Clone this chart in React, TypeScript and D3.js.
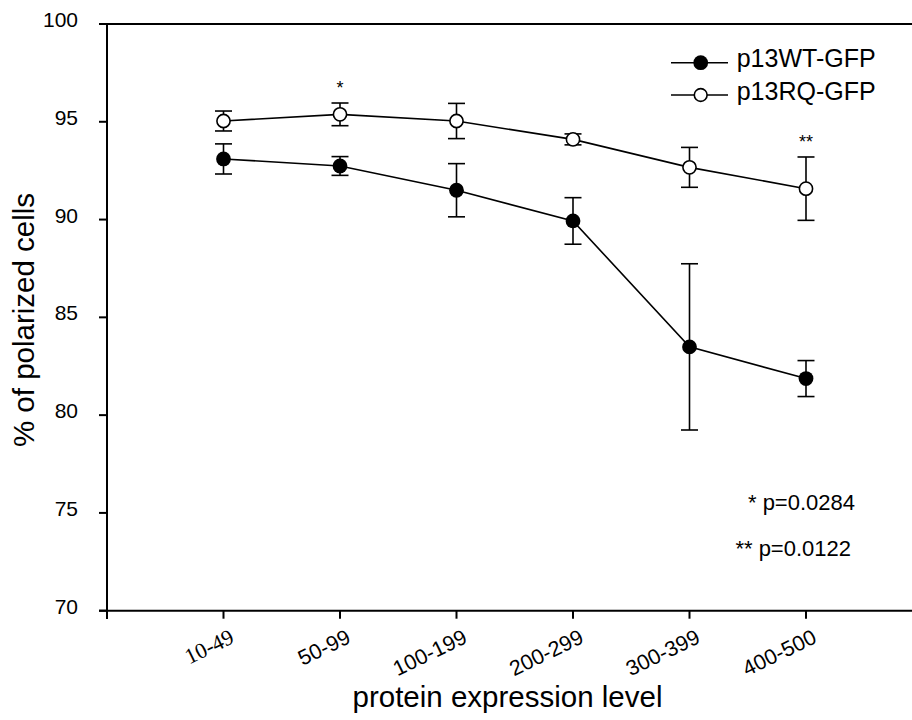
import React from "react";
import * as d3 from "d3";

const categories = ["10-49", "50-99", "100-199", "200-299", "300-399", "400-500"];
const wtMean = [93.1, 92.74, 91.5, 89.93, 83.49, 81.87];
const wtErr = [0.77, 0.48, 1.36, 1.19, 4.25, 0.92];
const rqMean = [95.04, 95.38, 95.04, 94.1, 92.67, 91.58];
const rqErr = [0.51, 0.58, 0.9, 0.28, 1.02, 1.62];
const yTicks = [70, 75, 80, 85, 90, 95, 100];
const seriesNames = ["p13WT-GFP", "p13RQ-GFP"];
const sigMarks = [
  { index: 1, label: "*" },
  { index: 5, label: "**" },
];
const pValues = ["* p=0.0284", "** p=0.0122"];

const W = 912;
const H = 720;
const FONT = "'Liberation Sans', Arial, sans-serif";

export default function App() {
  const x = d3.scaleLinear().domain([0, 7]).range([107, 922.5]);
  const y = d3.scaleLinear().domain([70, 100]).range([610.7, 24]);
  const pos = (i: number) => x(i + 1);
  const line = d3
    .line<number>()
    .x((_, i) => pos(i))
    .y((v) => y(v));

  const errBars = (means: number[], errs: number[], key: string) =>
    means.map((m, i) => {
      const cx = pos(i);
      const top = y(m + errs[i]);
      const bot = y(m - errs[i]);
      return (
        <g key={key + i} stroke="#000" strokeWidth={1.6}>
          <line x1={cx} x2={cx} y1={top} y2={bot} />
          <line x1={cx - 8.5} x2={cx + 8.5} y1={top} y2={top} />
          <line x1={cx - 8.5} x2={cx + 8.5} y1={bot} y2={bot} />
        </g>
      );
    });

  return (
    <svg
      width={W}
      height={H}
      style={{ position: "absolute", left: 0, top: 0, background: "#fff" }}
    >
      <rect x={0} y={0} width={W} height={H} fill="#fff" />
      {/* axes frame */}
      <line x1={107} x2={107} y1={24} y2={619} stroke="#000" strokeWidth={2} />
      <line x1={99} x2={x(7)} y1={y(70)} y2={y(70)} stroke="#000" strokeWidth={2} />
      <line x1={107} x2={x(7)} y1={y(100)} y2={y(100)} stroke="#000" strokeWidth={2} />
      {/* y ticks */}
      {yTicks.map((t) => (
        <g key={"yt" + t}>
          <line x1={99} x2={107} y1={y(t)} y2={y(t)} stroke="#000" strokeWidth={2} />
          <text
            x={78}
            y={y(t) + 3}
            textAnchor="end"
            fontFamily={FONT}
            fontSize={21}
            fill="#000"
          >
            {t}
          </text>
        </g>
      ))}
      {/* x ticks */}
      {categories.map((c, i) => (
        <g key={"xt" + c}>
          <line
            x1={pos(i)}
            x2={pos(i)}
            y1={y(70)}
            y2={y(70) + 8}
            stroke="#000"
            strokeWidth={2}
          />
          <text
            transform={`translate(${pos(i) + 12},${642}) rotate(-26)`}
            textAnchor="end"
            fontFamily={i === 0 ? "'Liberation Serif', 'Times New Roman', serif" : FONT}
            fontSize={i === 0 ? 22 : 21.5}
            fill="#000"
          >
            {c}
          </text>
        </g>
      ))}
      {/* axis titles */}
      <text
        x={507.5}
        y={707}
        textAnchor="middle"
        fontFamily={FONT}
        fontSize={29.5}
        fill="#000"
      >
        protein expression level
      </text>
      <text
        transform={`translate(34,${320}) rotate(-90)`}
        textAnchor="middle"
        fontFamily={FONT}
        fontSize={29.5}
        fill="#000"
      >
        % of polarized cells
      </text>
      {/* lines */}
      <path d={line(wtMean) || ""} fill="none" stroke="#000" strokeWidth={1.6} />
      <path d={line(rqMean) || ""} fill="none" stroke="#000" strokeWidth={1.6} />
      {errBars(wtMean, wtErr, "we")}
      {errBars(rqMean, rqErr, "re")}
      {wtMean.map((m, i) => (
        <circle key={"wm" + i} cx={pos(i)} cy={y(m)} r={7.4} fill="#000" />
      ))}
      {rqMean.map((m, i) => (
        <circle
          key={"rm" + i}
          cx={pos(i)}
          cy={y(m)}
          r={6.6}
          fill="#fff"
          stroke="#000"
          strokeWidth={1.6}
        />
      ))}
      {/* significance marks */}
      {sigMarks.map((s) => (
        <text
          key={"sig" + s.index}
          x={pos(s.index)}
          y={y(rqMean[s.index] + rqErr[s.index]) - 9}
          textAnchor="middle"
          fontFamily={FONT}
          fontSize={18}
          fill="#000"
        >
          {s.label}
        </text>
      ))}
      {/* legend */}
      <g>
        <line x1={671} x2={728} y1={62.7} y2={62.7} stroke="#000" strokeWidth={1.6} />
        <circle cx={700.7} cy={62.7} r={7.4} fill="#000" />
        <text x={736.7} y={67.3} fontFamily={FONT} fontSize={25} fill="#000">
          {seriesNames[0]}
        </text>
        <line x1={671} x2={728} y1={95} y2={95} stroke="#000" strokeWidth={1.6} />
        <circle cx={700.7} cy={95} r={6.4} fill="#fff" stroke="#000" strokeWidth={1.6} />
        <text x={736.7} y={100} fontFamily={FONT} fontSize={25} fill="#000">
          {seriesNames[1]}
        </text>
      </g>
      {/* p-values */}
      <text x={855} y={510} textAnchor="end" fontFamily={FONT} fontSize={22} fill="#000">
        {pValues[0]}
      </text>
      <text x={851} y={556} textAnchor="end" fontFamily={FONT} fontSize={22} fill="#000">
        {pValues[1]}
      </text>
    </svg>
  );
}
